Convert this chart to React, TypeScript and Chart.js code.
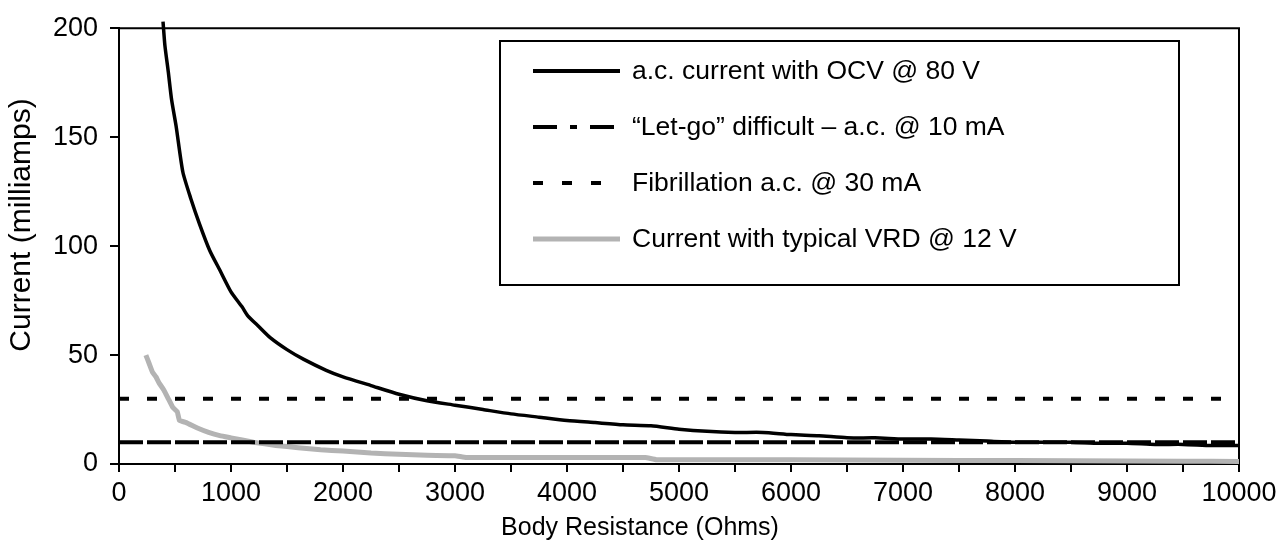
import React, { useEffect, useRef } from "react";
import { Chart, registerables } from "chart.js";

Chart.register(...registerables);

const FONT = "'Liberation Sans', Arial, Helvetica, sans-serif";

// Body resistance (Ohms) and current (mA) for a.c. OCV @ 80 V
const ocvResistance = [393, 410, 440, 470, 510, 570, 640, 720, 810, 900, 1000, 1100, 1150, 1250, 1350, 1500, 1650, 1850, 2000, 2250, 2500, 2750, 3000, 3250, 3500, 3750, 4000, 4250, 4500, 4750, 5000, 5250, 5500, 5750, 6000, 6250, 6500, 6750, 7000, 7250, 7500, 7750, 8000, 8250, 8500, 8750, 9000, 9250, 9500, 9750, 10000];
const ocvCurrent = [203, 192, 180, 167, 155, 134, 122, 110, 98, 89, 79, 72, 68, 63, 58, 52.5, 48, 43, 40, 36, 32, 29, 27, 25, 23, 21.5, 20, 19, 18, 17.5, 16, 15, 14.5, 14.5, 13.5, 13, 12, 12, 11.5, 11.5, 11, 10.5, 10, 10, 10, 9.5, 9.5, 9, 9, 8.5, 8.5];

// Current with typical VRD @ 12 V
const vrdResistance = [240, 270, 300, 330, 360, 400, 440, 480, 520, 540, 600, 700, 800, 900, 1000, 1200, 1400, 1600, 1800, 2000, 2250, 2500, 2750, 3000, 3100, 3500, 4000, 4500, 4700, 4800, 5500, 6500, 7500, 8500, 9500, 10000];
const vrdCurrent = [50, 46, 42, 40, 37, 34, 30, 26, 24, 20, 19, 16.5, 14.5, 13, 12, 10, 8.5, 7.5, 6.5, 6, 5, 4.5, 4, 3.8, 3, 3, 3, 3, 3, 2, 2, 1.8, 1.6, 1.5, 1.3, 1.2];

// Threshold lines
const thresholdResistance = [0, 10000];
const letGoCurrent = [10, 10];
const fibrillationCurrent = [30, 30];

const seriesLabels = [
  "a.c. current with OCV @ 80 V",
  "\u201CLet-go\u201D difficult \u2013 a.c. @ 10 mA",
  "Fibrillation a.c. @ 30 mA",
  "Current with typical VRD @ 12 V",
];

const xMin = 0;
const xMax = 10000;
const xTickStep = 500;
const xLabelStep = 1000;
const yMin = 0;
const yMax = 200;
const yTickStep = 50;

const xTitle = "Body Resistance (Ohms)";
const yTitle = "Current (milliamps)";

function toPoints(xs: number[], ys: number[]) {
  return xs.map((x, i) => ({ x, y: ys[i] }));
}

const framePlugin = {
  id: "frame",
  beforeDatasetsDraw(chart: any) {
    const { ctx, chartArea } = chart;
    ctx.save();
    ctx.strokeStyle = "#000";
    ctx.lineWidth = 2;
    ctx.beginPath();
    ctx.moveTo(chartArea.left, chartArea.top);
    ctx.lineTo(chartArea.right, chartArea.top);
    ctx.lineTo(chartArea.right, chartArea.bottom);
    ctx.stroke();
    ctx.restore();
  },
};

const axisTitlesPlugin = {
  id: "axisTitles",
  afterDraw(chart: any, _args: any, opts: any) {
    const { ctx } = chart;
    ctx.save();
    ctx.fillStyle = "#000";
    ctx.textAlign = "center";
    ctx.textBaseline = "middle";
    ctx.font = opts.xFont;
    ctx.fillText(opts.xText, opts.xX, opts.xY);
    ctx.translate(opts.yX, opts.yY);
    ctx.rotate(-Math.PI / 2);
    ctx.font = opts.yFont;
    ctx.fillText(opts.yText, 0, 0);
    ctx.restore();
  },
};

const boxLegendPlugin = {
  id: "boxLegend",
  afterDraw(chart: any, _args: any, opts: any) {
    const { ctx } = chart;
    ctx.save();
    ctx.fillStyle = "#fff";
    ctx.fillRect(opts.left, opts.top, opts.width, opts.height);
    ctx.strokeStyle = "#000";
    ctx.lineWidth = 2;
    ctx.strokeRect(opts.left, opts.top, opts.width, opts.height);
    chart.data.datasets.forEach((ds: any, i: number) => {
      const y = opts.rowY[i];
      ctx.beginPath();
      ctx.setLineDash(ds.legendDash || []);
      ctx.lineDashOffset = 0;
      ctx.lineCap = "butt";
      ctx.strokeStyle = ds.borderColor;
      ctx.lineWidth = ds.legendWidth;
      ctx.moveTo(opts.lineX0, y);
      ctx.lineTo(ds.legendLineEnd || opts.lineX1, y);
      ctx.stroke();
      ctx.setLineDash([]);
      ctx.fillStyle = "#000";
      ctx.font = opts.font;
      ctx.textAlign = "left";
      ctx.textBaseline = "middle";
      ctx.fillText(ds.label, opts.textX, y + 1);
    });
    ctx.restore();
  },
};

export default function App() {
  const canvasRef = useRef<HTMLCanvasElement | null>(null);

  useEffect(() => {
    document.body.style.margin = "0";
    const canvas = canvasRef.current;
    if (!canvas) return;

    const chart = new Chart(canvas, {
      type: "line",
      data: {
        datasets: [
          {
            label: seriesLabels[0],
            data: toPoints(ocvResistance, ocvCurrent),
            borderColor: "#000",
            borderWidth: 3.5,
            pointRadius: 0,
            tension: 0.2,
            clip: false,
            order: 0,
            legendWidth: 4,
            legendDash: [],
            legendLineEnd: 620,
          } as any,
          {
            label: seriesLabels[1],
            data: toPoints(thresholdResistance, letGoCurrent),
            borderColor: "#000",
            borderWidth: 4,
            borderDash: [24, 4],
            pointRadius: 0,
            order: 1,
            legendWidth: 4,
            legendDash: [24, 13, 7, 13],
            legendLineEnd: 614,
          } as any,
          {
            label: seriesLabels[2],
            data: toPoints(thresholdResistance, fibrillationCurrent),
            borderColor: "#000",
            borderWidth: 4,
            borderDash: [10, 18],
            pointRadius: 0,
            order: 2,
            legendWidth: 4,
            legendDash: [10, 19],
            legendLineEnd: 604,
          } as any,
          {
            label: seriesLabels[3],
            data: toPoints(vrdResistance, vrdCurrent),
            borderColor: "#b3b3b3",
            borderWidth: 5,
            pointRadius: 0,
            tension: 0.1,
            order: 3,
            legendWidth: 5,
            legendDash: [],
            legendLineEnd: 620,
          } as any,
        ],
      },
      options: {
        responsive: false,
        animation: false,
        layout: { padding: { left: 0, top: 19, right: 49, bottom: 0 } },
        plugins: {
          legend: { display: false },
          tooltip: { enabled: false },
          boxLegend: {
            left: 500,
            top: 41,
            width: 679,
            height: 244,
            rowY: [71, 127, 183, 239],
            lineX0: 533,
            lineX1: 620,
            textX: 632,
            font: `26.5px ${FONT}`,
          },
          axisTitles: {
            xText: xTitle,
            xX: 640,
            xY: 528,
            xFont: `25px ${FONT}`,
            yText: yTitle,
            yX: 22,
            yY: 225,
            yFont: `30px ${FONT}`,
          },
        } as any,
        scales: {
          x: {
            type: "linear",
            min: xMin,
            max: xMax,
            afterFit: (s: any) => {
              s.height = 92;
            },
            border: { display: true, color: "#000", width: 2 },
            grid: {
              display: true,
              drawOnChartArea: false,
              drawTicks: true,
              tickLength: 8,
              color: "#000",
              lineWidth: 2,
            },
            ticks: {
              stepSize: xTickStep,
              autoSkip: false,
              maxRotation: 0,
              padding: 5,
              color: "#000",
              font: { family: FONT, size: 27 },
              callback: (v: any) => (Number(v) % xLabelStep === 0 ? String(v) : ""),
            },
          },
          y: {
            type: "linear",
            min: yMin,
            max: yMax,
            afterFit: (s: any) => {
              s.width = 119;
            },
            border: { display: true, color: "#000", width: 2 },
            grid: {
              display: true,
              drawOnChartArea: false,
              drawTicks: true,
              tickLength: 9,
              color: "#000",
              lineWidth: 2,
            },
            ticks: {
              stepSize: yTickStep,
              padding: 12,
              color: "#000",
              font: { family: FONT, size: 27 },
              callback: (v: any) => String(v),
            },
          },
        },
      },
      plugins: [framePlugin, axisTitlesPlugin, boxLegendPlugin],
    });

    return () => chart.destroy();
  }, []);

  return (
    <div style={{ width: 1288, height: 556 }}>
      <canvas ref={canvasRef} width={1288} height={556} style={{ display: "block" }} />
    </div>
  );
}
